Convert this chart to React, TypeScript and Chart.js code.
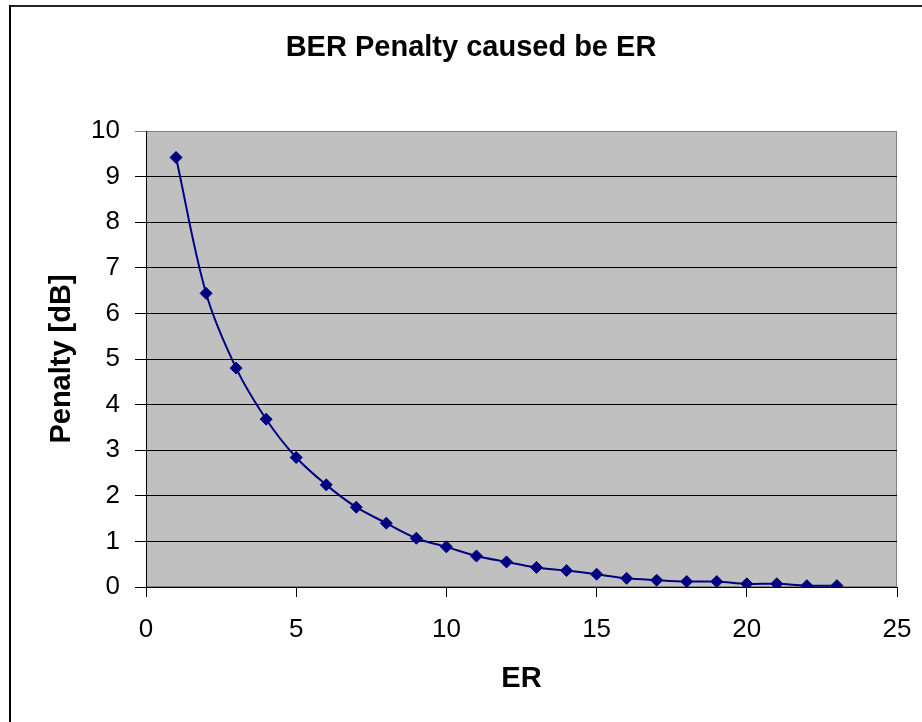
import React, { useEffect, useRef } from "react";
import { Chart, registerables } from "chart.js";

Chart.register(...registerables);

const erValues: number[] = [1, 2, 3, 4, 5, 6, 7, 8, 9, 10, 11, 12, 13, 14, 15, 16, 17, 18, 19, 20, 21, 22, 23];
const penaltyValues: number[] = [9.42, 6.44, 4.8, 3.68, 2.84, 2.24, 1.75, 1.4, 1.07, 0.88, 0.68, 0.55, 0.43, 0.36, 0.28, 0.19, 0.15, 0.12, 0.12, 0.07, 0.07, 0.03, 0.03];
const chartTitle = "BER Penalty caused be ER";
const xTitle = "ER";
const yTitle = "Penalty [dB]";

const FONT = "'Liberation Sans', Arial, sans-serif";

const framePlugin = {
  id: "frameAndPlotBg",
  beforeDraw(chart: any) {
    const { ctx, chartArea } = chart;
    ctx.save();
    ctx.fillStyle = "#ffffff";
    ctx.fillRect(0, 0, chart.width, chart.height);
    // outer frame (top + left)
    ctx.fillStyle = "#222222";
    ctx.fillRect(9, 5, chart.width - 9, 2);
    ctx.fillStyle = "#000000";
    ctx.fillRect(9, 5, 2, chart.height - 5);
    // plot area
    ctx.fillStyle = "#c0c0c0";
    ctx.fillRect(chartArea.left, chartArea.top, chartArea.right - chartArea.left, chartArea.bottom - chartArea.top);
    ctx.strokeStyle = "#808080";
    ctx.lineWidth = 1;
    ctx.strokeRect(chartArea.left + 0.5, chartArea.top + 0.5, chartArea.right - chartArea.left - 1, chartArea.bottom - chartArea.top - 1);
    ctx.restore();
  },
};

export default function App() {
  const ref = useRef<HTMLCanvasElement | null>(null);
  useEffect(() => {
    if (!ref.current) return;
    const chart = new Chart(ref.current, {
      type: "line",
      data: {
        datasets: [
          {
            data: erValues.map((x, i) => ({ x, y: penaltyValues[i] })),
            borderColor: "#000080",
            backgroundColor: "#000080",
            borderWidth: 2,
            tension: 0.35,
            pointStyle: "rectRot",
            pointRadius: 6,
            pointBackgroundColor: "#000080",
            pointBorderColor: "#000080",
            pointBorderWidth: 1,
            fill: false,
          },
        ],
      },
      options: {
        responsive: false,
        animation: false,
        devicePixelRatio: 1,
        layout: { padding: { left: 45, right: 25, top: 0, bottom: 0 } },
        plugins: {
          legend: { display: false },
          tooltip: { enabled: false },
          title: {
            display: true,
            text: chartTitle,
            color: "#000",
            font: { family: FONT, size: 29, weight: "bold" },
            padding: { top: 31, bottom: 65.2 },
          },
        },
        scales: {
          x: {
            type: "linear",
            min: 0,
            max: 25,
            ticks: {
              stepSize: 5,
              color: "#000",
              font: { family: FONT, size: 26 },
              padding: 17,
              maxRotation: 0,
            },
            grid: {
              drawOnChartArea: false,
              drawTicks: true,
              tickLength: 10,
              color: "#000",
            },
            border: { color: "#000", width: 1 },
            title: {
              display: true,
              text: xTitle,
              color: "#000",
              font: { family: FONT, size: 29, weight: "bold" },
              padding: { top: 0, bottom: 25.6 },
            },
            afterFit(scale: any) {
              scale.height = 135;
              scale.paddingRight = 0;
              scale.paddingLeft = 0;
            },
          },
          y: {
            type: "linear",
            min: 0,
            max: 10,
            ticks: {
              stepSize: 1,
              color: "#000",
              font: { family: FONT, size: 26 },
              padding: 15,
            },
            grid: {
              drawOnChartArea: true,
              drawTicks: true,
              tickLength: 11,
              color: (c: any) => (c.tick && c.tick.value === 10 ? "#808080" : "#000"),
            },
            border: { color: "#000", width: 1 },
            title: {
              display: true,
              text: yTitle,
              color: "#000",
              font: { family: FONT, size: 29, weight: "bold" },
              padding: { top: 0, bottom: 0 },
            },
            afterFit(scale: any) {
              scale.width = 101;
            },
          },
        },
      },
      plugins: [framePlugin],
    });
    return () => chart.destroy();
  }, []);
  return (
    <canvas
      ref={ref}
      width={922}
      height={722}
      style={{ position: "absolute", left: 0, top: 0, width: 922, height: 722 }}
    />
  );
}
